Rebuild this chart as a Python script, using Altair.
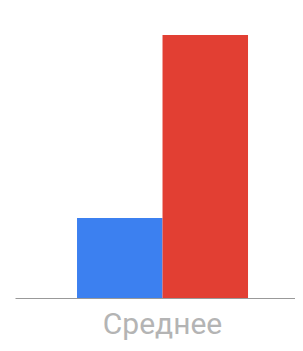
import altair as alt
import pandas as pd

categories = ["Среднее", "Среднее"]
series = ["Серия 1", "Серия 2"]
values = [30.4, 100]
colors = ["#3c80f0", "#e23f33"]

df = pd.DataFrame({"category": categories, "series": series, "value": values})

chart = alt.Chart(df).mark_bar().encode(
    x=alt.X("category:N", title=None,
            scale=alt.Scale(paddingOuter=0.3187, paddingInner=0, align=0.569),
            axis=alt.Axis(labelAngle=0, ticks=False, domainColor="#999999", domainWidth=1,
                          labelColor="#b4b4b4", labelFontSize=30, labelFont="Roboto",
                          labelPadding=11, grid=False)),
    xOffset=alt.XOffset("series:N", scale=alt.Scale(paddingInner=0, paddingOuter=0)),
    y=alt.Y("value:Q", axis=None, scale=alt.Scale(domain=[0, 100], nice=False)),
    color=alt.Color("series:N", scale=alt.Scale(domain=series, range=colors), legend=None),
).properties(
    width=280, height=263,
    padding={"left": 7, "top": 27, "right": 0, "bottom": 6},
).configure_view(stroke=None)

chart.save("out.html", embed_options={"renderer": "svg", "actions": False})
